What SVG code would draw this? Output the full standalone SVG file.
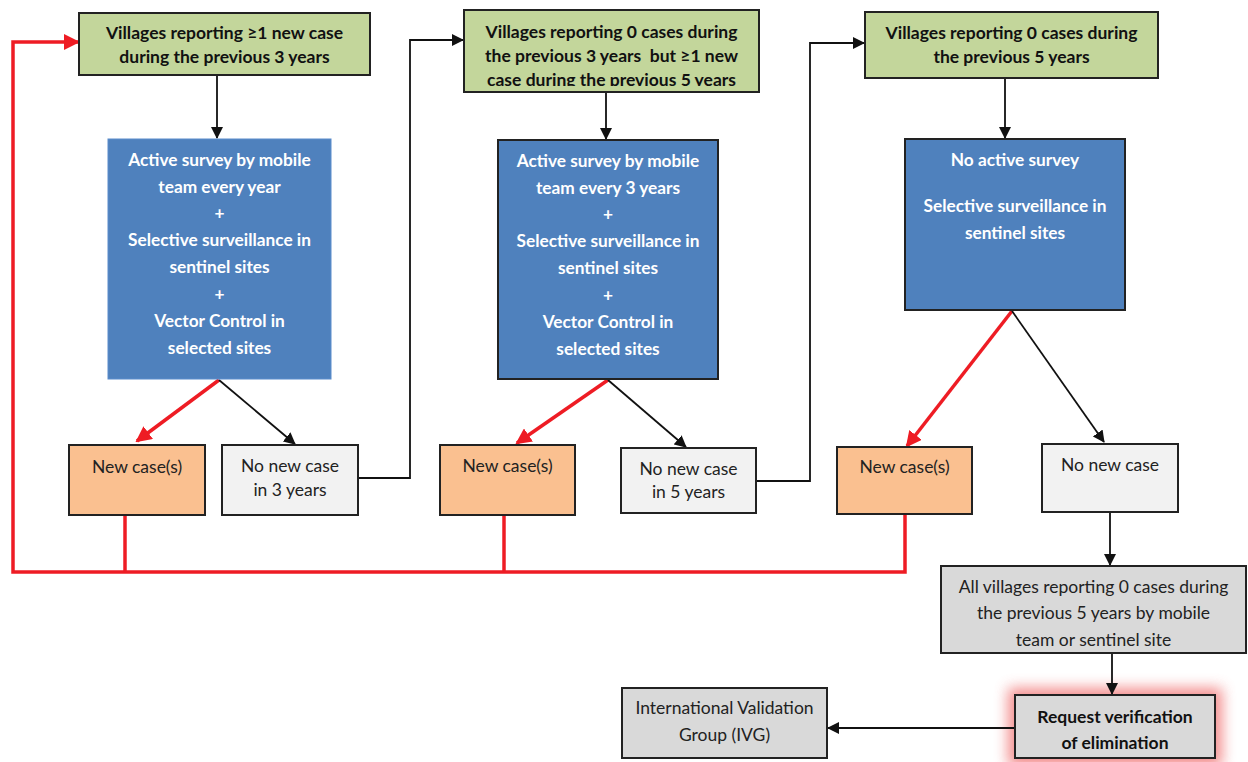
<svg xmlns="http://www.w3.org/2000/svg" width="1248" height="762" viewBox="0 0 1248 762">
<style>
.box{stroke:#222;stroke-width:2}
.green{fill:#c3d69b}
.blue{fill:#4f81bd}
.orange{fill:#fac090}
.light{fill:#f2f2f2}
.gray{fill:#d9d9d9}
text{font-family:Lato,"Liberation Sans",sans-serif;text-anchor:middle}
.tb{font-weight:bold;font-size:17.5px;fill:#111}
.tw{font-weight:bold;font-size:17.3px;fill:#fff}
.tr{font-size:17.5px;fill:#222}
.k{fill:none;stroke:#111;stroke-width:1.8}
.r{fill:none;stroke:#ee1c24;stroke-width:3.5}
</style>
<defs>
<marker id="ak" markerWidth="12" markerHeight="12" refX="11" refY="6" orient="auto" markerUnits="userSpaceOnUse"><path d="M0,0 L12,6 L0,12 z" fill="#111"/></marker>
<marker id="ar" markerWidth="16" markerHeight="16" refX="14" refY="8" orient="auto" markerUnits="userSpaceOnUse"><path d="M0,0 L16,8 L0,16 z" fill="#ee1c24"/></marker>
<filter id="glow" x="-30%" y="-50%" width="160%" height="200%"><feGaussianBlur stdDeviation="7"/></filter>
<clipPath id="c2"><rect x="464" y="10" width="295" height="76"/></clipPath>
</defs>

<g id="request-glow"><rect x="1008" y="688" width="214" height="78" fill="#f07070" opacity="0.8" filter="url(#glow)"/></g>

<g id="connectors">
<line class="k" x1="217" y1="76" x2="217" y2="138" marker-end="url(#ak)"/>
<line class="k" x1="606" y1="93" x2="606" y2="139" marker-end="url(#ak)"/>
<line class="k" x1="1005" y1="79" x2="1005" y2="138" marker-end="url(#ak)"/>
<line class="r" x1="219" y1="380" x2="137" y2="441" marker-end="url(#ar)"/>
<line class="k" x1="219" y1="380" x2="295" y2="444" marker-end="url(#ak)"/>
<line class="r" x1="608" y1="380" x2="517" y2="443" marker-end="url(#ar)"/>
<line class="k" x1="608" y1="380" x2="686" y2="447" marker-end="url(#ak)"/>
<line class="r" x1="1012" y1="311" x2="907" y2="446" marker-end="url(#ar)"/>
<line class="k" x1="1012" y1="311" x2="1104" y2="442" marker-end="url(#ak)"/>
<polyline class="k" points="358,478 410,478 410,40 463,40" marker-end="url(#ak)"/>
<polyline class="k" points="756,481 810,481 810,43 864,43" marker-end="url(#ak)"/>
<polyline class="r" points="125,515 125,572"/>
<polyline class="r" points="504,515 504,572"/>
<polyline class="r" points="905,515 905,572 13,572 13,42 78,42" marker-end="url(#ar)"/>
<line class="k" x1="1110" y1="513" x2="1110" y2="565" marker-end="url(#ak)"/>
<line class="k" x1="1112" y1="654" x2="1112" y2="694" marker-end="url(#ak)"/>
<line class="k" x1="1015" y1="728" x2="828" y2="728" marker-end="url(#ak)"/>
</g>

<g id="n-green1"><rect class="box green" x="79" y="13" width="291" height="62"/>
<text class="tb" x="224.5" y="39">Villages reporting ≥1 new case</text>
<text class="tb" x="224.5" y="63">during the previous 3 years</text></g>

<g id="n-green2"><rect class="box green" x="464" y="10" width="295" height="82"/>
<g clip-path="url(#c2)">
<text class="tb" x="611.5" y="38">Villages reporting 0 cases during</text>
<text class="tb" x="611.5" y="62">the previous 3 years &#160;but ≥1 new</text>
<text class="tb" x="611.5" y="86">case during the previous 5 years</text></g></g>

<g id="n-green3"><rect class="box green" x="865" y="12" width="293" height="66"/>
<text class="tb" x="1011.5" y="39">Villages reporting 0 cases during</text>
<text class="tb" x="1011.5" y="63">the previous 5 years</text></g>

<g id="n-blue1"><rect class="blue" x="108" y="139" width="223" height="240" stroke="#5a8ccc" stroke-width="1"/>
<text class="tw" x="219.5" y="166">Active survey by mobile</text>
<text class="tw" x="219.5" y="193">team every year</text>
<text class="tw" x="219.5" y="219">+</text>
<text class="tw" x="219.5" y="246">Selective surveillance in</text>
<text class="tw" x="219.5" y="273">sentinel sites</text>
<text class="tw" x="219.5" y="300">+</text>
<text class="tw" x="219.5" y="327">Vector Control in</text>
<text class="tw" x="219.5" y="354">selected sites</text></g>

<g id="n-blue2"><rect class="box blue" x="498" y="140" width="220" height="239"/>
<text class="tw" x="608" y="167">Active survey by mobile</text>
<text class="tw" x="608" y="194">team every 3 years</text>
<text class="tw" x="608" y="220">+</text>
<text class="tw" x="608" y="247">Selective surveillance in</text>
<text class="tw" x="608" y="274">sentinel sites</text>
<text class="tw" x="608" y="301">+</text>
<text class="tw" x="608" y="328">Vector Control in</text>
<text class="tw" x="608" y="355">selected sites</text></g>

<g id="n-blue3"><rect class="box blue" x="905" y="139" width="220" height="171"/>
<text class="tw" x="1015" y="166">No active survey</text>
<text class="tw" x="1015" y="212">Selective surveillance in</text>
<text class="tw" x="1015" y="239">sentinel sites</text></g>

<g id="n-new1"><rect class="box orange" x="69" y="445" width="136" height="70"/>
<text class="tr" x="137" y="473">New case(s)</text></g>
<g id="n-none1"><rect class="box light" x="222" y="445" width="136" height="70"/>
<text class="tr" x="290" y="472">No new case</text>
<text class="tr" x="290" y="496">in 3 years</text></g>
<g id="n-new2"><rect class="box orange" x="440" y="445" width="135" height="70"/>
<text class="tr" x="507.5" y="472">New case(s)</text></g>
<g id="n-none2"><rect class="box light" x="621" y="448" width="135" height="65"/>
<text class="tr" x="688.5" y="475">No new case</text>
<text class="tr" x="688.5" y="498">in 5 years</text></g>
<g id="n-new3"><rect class="box orange" x="837" y="447" width="135" height="67"/>
<text class="tr" x="904.5" y="473">New case(s)</text></g>
<g id="n-none3"><rect class="box light" x="1042" y="444" width="136" height="68"/>
<text class="tr" x="1110" y="471">No new case</text></g>

<g id="n-all"><rect class="box gray" x="941" y="566" width="305" height="87"/>
<text class="tr" x="1093.5" y="593">All villages reporting 0 cases during</text>
<text class="tr" x="1093.5" y="619">the previous 5 years by mobile</text>
<text class="tr" x="1093.5" y="646">team or sentinel site</text></g>

<g id="n-request">
<rect class="box gray" x="1015" y="695" width="200" height="63"/>
<text class="tb" x="1115" y="723">Request verification</text>
<text class="tb" x="1115" y="749">of elimination</text></g>

<g id="n-ivg"><rect class="box gray" x="622" y="688" width="205" height="70"/>
<text class="tr" x="724.5" y="714">International Validation</text>
<text class="tr" x="724.5" y="741">Group (IVG)</text></g>
</svg>
